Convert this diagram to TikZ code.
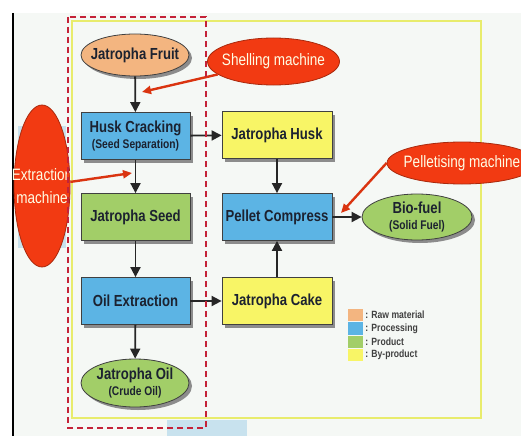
\documentclass[tikz,border=0pt]{standalone}
\usepackage{fontspec}
\setmainfont[FakeStretch=0.82]{Liberation Sans}
\usetikzlibrary{positioning,arrows.meta,shapes.geometric,shadows}
\definecolor{rawcol}{RGB}{243,181,128}
\definecolor{proccol}{RGB}{92,180,228}
\definecolor{prodcol}{RGB}{162,206,104}
\definecolor{bycol}{RGB}{248,245,102}
\definecolor{machcol}{RGB}{242,58,18}
\definecolor{boxtext}{RGB}{28,34,48}
\definecolor{pagecol}{RGB}{245,248,245}
\definecolor{framecol}{RGB}{232,236,108}
\definecolor{dashcol}{RGB}{196,34,56}
\definecolor{patchcol}{RGB}{200,226,238}
\newcommand{\subline}[1]{{\fontsize{12.5}{13}\selectfont #1}}
\tikzset{
  stepshadow/.style={drop shadow={shadow xshift=3pt,shadow yshift=-3pt,fill=black!45,opacity=1}},
  stagebox/.style={rectangle, draw=black!75, line width=0.8pt, minimum width=109pt, minimum height=47pt, align=center, text=boxtext, font=\bfseries\fontsize{16}{16}\selectfont, stepshadow},
  stageoval/.style={ellipse, draw=black!75, line width=0.8pt, inner xsep=-16pt, inner ysep=-8pt, align=center, text=boxtext, font=\bfseries\fontsize{16}{16}\selectfont, stepshadow},
  machine/.style={ellipse, fill=machcol, draw=machcol!70!black, line width=0.8pt, inner xsep=-20pt, inner ysep=-10pt, align=center, text=white!90!yellow, font=\fontsize{16.5}{23}\selectfont},
  flow/.style={-{Triangle[length=10pt,width=10pt]}, line width=1.8pt, black!85},
  pointer/.style={-{Triangle[length=9pt,width=8pt]}, line width=2.4pt, machcol!90!black},
  swatch/.style={minimum width=15pt, minimum height=12.5pt, inner sep=0pt},
  keytext/.style={anchor=west, inner sep=0pt, text=black!75, font=\bfseries\fontsize{10.5}{11}\selectfont}
}

\begin{document}
\begin{tikzpicture}[x=1pt,y=-1pt]
  \useasboundingbox (0,0) rectangle (521,436);
  \fill[pagecol] (0,0) rectangle (521,436);
  \fill[white] (0,0) rectangle (521,13);
  \fill[white] (0,13) rectangle (13,436);
  \draw[black, line width=2pt] (13,13) -- (13,436);
  \fill[patchcol] (167,420) rectangle (247,436);
  \fill[patchcol] (18,126) rectangle (66,248);
  \draw[framecol, line width=1.6pt] (72,21) rectangle (481,418);

  \node[stageoval, fill=rawcol, minimum width=108pt, minimum height=42pt] (fruit) at (135,55) {Jatropha Fruit};
  \node[stagebox, fill=proccol] (crack) at (135.5,136) {Husk Cracking\\\subline{(Seed Separation)}};
  \node[stagebox, fill=prodcol] (seed) at (135.5,217) {Jatropha Seed};
  \node[stagebox, fill=proccol] (oilext) at (135.5,301) {Oil Extraction};
  \node[stageoval, fill=prodcol, minimum width=108pt, minimum height=48pt] (oil) at (135,383) {Jatropha Oil\\\subline{(Crude Oil)}};
  \node[stagebox, fill=bycol, minimum width=110pt] (husk) at (277,135) {Jatropha Husk};
  \node[stagebox, fill=proccol, minimum width=110pt] (pellet) at (277,217) {Pellet Compress};
  \node[stagebox, fill=bycol, minimum width=110pt] (cake) at (277,301) {Jatropha Cake};
  \node[stageoval, fill=prodcol, minimum width=110pt, minimum height=46pt] (biofuel) at (417,217) {Bio-fuel\\\subline{(Solid Fuel)}};

  \draw[flow] (fruit) -- (crack);
  \draw[flow] (crack) -- (seed);
  \draw[flow] (seed) -- (oilext);
  \draw[flow] (oilext) -- (oil);
  \draw[flow] (crack) -- (husk);
  \draw[flow] (oilext) -- (cake);
  \draw[flow] (husk) -- (pellet);
  \draw[flow] (cake) -- (pellet);
  \draw[flow] (pellet) -- (biofuel);

  \node[machine, minimum width=132pt, minimum height=47pt] (shelling) at (273.5,61.5) {Shelling machine};
  \node[machine, minimum width=56pt, minimum height=162pt] (extraction) at (42,186) {Extraction\\machine};
  \node[machine, minimum width=150pt, minimum height=42pt] (pelletising) at (462,163) {Pelletising machine};
  \coordinate (shellTip) at (142,92);
  \coordinate (extractTip) at (132,173);
  \coordinate (pelletTip) at (341,213);
  \draw[pointer] (shelling) -- (shellTip);
  \draw[pointer] (extraction) -- (extractTip);
  \draw[pointer] (pelletising.west) -- (pelletTip);

  \node[swatch, fill=rawcol] (keyraw) at (355.5,315) {};
  \node[swatch, fill=proccol, below=0.5pt of keyraw] (keyproc) {};
  \node[swatch, fill=prodcol, below=0.5pt of keyproc] (keyprod) {};
  \node[swatch, fill=bycol, below=0.5pt of keyprod] (keyby) {};
  \node[keytext, right=2pt of keyraw] (lblraw) {: Raw material};
  \node[keytext, right=2pt of keyproc] (lblproc) {: Processing};
  \node[keytext, right=2pt of keyprod] (lblprod) {: Product};
  \node[keytext, right=2pt of keyby] (lblby) {: By-product};

  \draw[dashcol, line width=1.6pt, dash pattern=on 6pt off 4pt] (68,17) rectangle (206,428);
\end{tikzpicture}
\end{document}
